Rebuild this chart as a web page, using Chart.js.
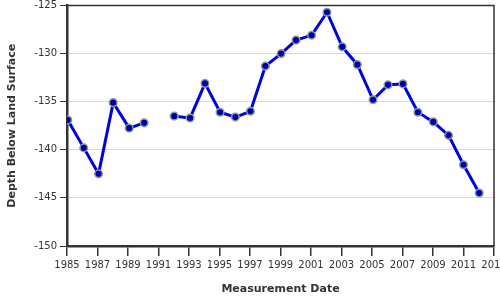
<!DOCTYPE html>
<html>
<head>
<meta charset="utf-8">
<script src="https://cdn.jsdelivr.net/npm/chart.js@4"></script>
<style>
  html, body { margin: 0; padding: 0; background: #fff; }
  #wrap { width: 500px; height: 300px; position: relative; }
</style>
</head>
<body>
<div id="wrap"><canvas id="c" width="500" height="300"></canvas></div>
<script>
// Measurement dates (decimal years); null marks the gap in 1991
const measurementDates = [1985.05, 1986.1, 1987.07, 1988.03, 1989.08, 1990.06, 1991.0,
  1992.03, 1993.07, 1994.05, 1995.04, 1996.04, 1997.03, 1998.01, 1999.04, 2000.02,
  2001.04, 2002.05, 2003.05, 2004.04, 2005.07, 2006.05, 2007.03, 2008.01, 2009.02,
  2010.02, 2011.0, 2012.03];
const depthValues = [-136.9, -139.8, -142.5, -135.1, -137.75, -137.2, null,
  -136.5, -136.7, -133.1, -136.1, -136.6, -136.0, -131.3, -130.0, -128.6,
  -128.1, -125.7, -129.3, -131.15, -134.8, -133.25, -133.15, -136.1, -137.1,
  -138.5, -141.55, -144.5];
const xTickRange = [1985, 2013];
const yTickRange = [-150, -125];

const points = measurementDates.map((d, i) => ({ x: d, y: depthValues[i] }));

const frame = {
  id: 'frame',
  afterDraw(chart) {
    const { ctx, chartArea: a } = chart;
    ctx.save();
    ctx.strokeStyle = '#333';
    ctx.lineWidth = 1.5;
    ctx.beginPath();
    ctx.moveTo(a.left, a.top);
    ctx.lineTo(a.right, a.top);
    ctx.lineTo(a.right, a.bottom);
    ctx.stroke();
    ctx.restore();
  }
};

new Chart(document.getElementById('c'), {
  type: 'line',
  data: {
    datasets: [{
      data: points,
      borderColor: '#0000e0',
      borderWidth: 3,
      pointRadius: 3.8,
      pointBackgroundColor: '#0000aa',
      pointBorderColor: '#8a9a9a',
      pointBorderWidth: 1.5,
      spanGaps: false,
      tension: 0
    }]
  },
  options: {
    responsive: false,
    animation: false,
    layout: { padding: { top: 4, right: 6, left: 0, bottom: 0 } },
    plugins: { legend: { display: false }, tooltip: { enabled: false } },
    scales: {
      x: {
        type: 'linear',
        min: xTickRange[0],
        max: xTickRange[1],
        afterFit(s) { s.height = 54; s.paddingLeft = 0; s.paddingRight = 0; },
        ticks: {
          stepSize: 2,
          autoSkip: false,
          maxRotation: 0,
          color: '#333',
          font: { family: 'DejaVu Sans', size: 10 },
          padding: 3,
          callback: v => String(v)
        },
        grid: { drawOnChartArea: false, drawTicks: true, tickLength: 10, tickColor: '#333', lineWidth: 1.5 },
        border: { color: '#333', width: 2.5 },
        title: {
          display: true,
          text: 'Measurement Date',
          color: '#333',
          font: { family: 'DejaVu Sans', size: 11, weight: 'bold' },
          padding: { top: 4 }
        }
      },
      y: {
        min: yTickRange[0],
        max: yTickRange[1],
        afterFit(s) { s.width = 67; s.paddingTop = 0; s.paddingBottom = 0; },
        ticks: {
          stepSize: 5,
          color: '#333',
          font: { family: 'DejaVu Sans', size: 10 },
          padding: 3
        },
        grid: { color: '#d8d8d8', lineWidth: 1, drawTicks: true, tickLength: 7, tickColor: '#333' },
        border: { color: '#333', width: 2.5 },
        title: {
          display: true,
          text: 'Depth Below Land Surface',
          color: '#333',
          font: { family: 'DejaVu Sans', size: 11, weight: 'bold' },
          padding: { bottom: 0, top: 6 }
        }
      }
    }
  },
  plugins: [frame]
});
</script>
</body>
</html>
